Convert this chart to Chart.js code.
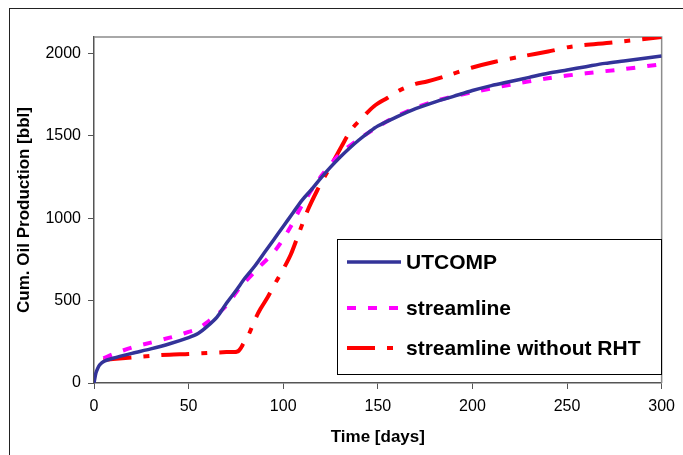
<!DOCTYPE html>
<html lang="en">
<head>
  <meta charset="UTF-8" />
  <title>Cum. Oil Production</title>
  <script src="https://cdn.jsdelivr.net/npm/chart.js"></script>
  <style>
    body {
      margin: 0;
      background: #fff;
      overflow: hidden;
    }
    .wrap {
      position: relative;
      width: 683px;
      height: 455px;
    }
    .frame {
      position: absolute;
      left: 9px;
      top: 8px;
      width: 700px;
      height: 500px;
      border: 1px solid #222;
    }
    canvas {
      position: absolute;
      left: 0;
      top: 0;
    }
  </style>
</head>
<body>
  <div class="wrap">
    <div class="frame"></div>
    <canvas id="chart" width="683" height="455"></canvas>
  </div>

  <script>
    // UTCOMP
    const utcompDays = [0, 1, 2, 3, 5, 10, 20, 30, 40, 50, 55, 60, 65, 70, 75, 80, 85, 90, 95, 100,
      105, 110, 115, 120, 125, 130, 135, 140, 145, 150, 160, 170, 180, 190, 200, 210, 220, 230, 240,
      250, 260, 270, 280, 290, 300];
    const utcompOil = [0, 60, 90, 110, 130, 150, 180, 207, 238, 275, 300, 345, 400, 484, 560, 640, 710,
      790, 870, 950, 1030, 1110, 1175, 1245, 1310, 1370, 1425, 1475, 1520, 1560, 1615, 1665, 1705,
      1740, 1775, 1805, 1830, 1855, 1880, 1900, 1920, 1940, 1955, 1970, 1985];

    // streamline
    const streamDays = [5, 10, 20, 30, 40, 45, 50, 55, 60, 65, 70, 77, 87, 96, 104, 110, 120, 130, 140,
      150, 160, 170, 180, 190, 200, 220, 240, 260, 280, 300];
    const streamOil = [150, 175, 215, 245, 275, 291, 310, 330, 370, 415, 470, 577, 700, 808, 950, 1080,
      1255, 1390, 1480, 1555, 1620, 1670, 1710, 1740, 1765, 1810, 1850, 1880, 1905, 1935];

    // streamline without RHT
    const noRhtDays = [5, 10, 20, 30, 40, 50, 60, 70, 76, 79, 82, 85, 88, 92, 96, 100, 104, 108, 113, 118,
      122, 127, 131, 136, 141, 148, 155, 162, 170, 176, 188, 200, 212, 226, 240, 253, 274, 300];
    const noRhtOil = [140, 145, 155, 165, 172, 176, 182, 188, 192, 240, 300, 383, 450, 525, 610, 690, 780,
      900, 1050, 1170, 1254, 1356, 1440, 1538, 1600, 1680, 1730, 1779, 1815, 1830, 1870, 1915, 1950,
      1982, 2012, 2043, 2067, 2100];

    const xTicks = [0, 50, 100, 150, 200, 250, 300];
    const yTicks = [0, 500, 1000, 1500, 2000];

    function pairs(xs, ys) {
      return xs.map((x, i) => ({ x: x, y: ys[i] }));
    }

    // gray frame on top/right of the plot
    const plotFrame = {
      id: 'plotFrame',
      beforeDatasetsDraw(chart) {
        const { ctx, chartArea: a } = chart;
        ctx.save();
        ctx.strokeStyle = '#8c8c8c';
        ctx.lineWidth = 1.5;
        ctx.beginPath();
        ctx.moveTo(a.left, a.top);
        ctx.lineTo(a.right, a.top);
        ctx.lineTo(a.right, a.bottom);
        ctx.stroke();
        ctx.restore();
      }
    };

    // boxed legend inside the plot
    const boxLegend = {
      id: 'boxLegend',
      afterDraw(chart) {
        const { ctx, chartArea: a } = chart;
        const left = a.left + 243, top = a.top + 202;
        const w = 324, h = 135;
        ctx.save();
        ctx.fillStyle = '#fff';
        ctx.fillRect(left, top, w, h);
        ctx.strokeStyle = '#000';
        ctx.lineWidth = 1;
        ctx.strokeRect(left + 0.5, top + 0.5, w, h);
        const rows = [23, 69, 109];
        chart.data.datasets.forEach((ds, i) => {
          const y = top + rows[i];
          ctx.beginPath();
          ctx.strokeStyle = ds.borderColor;
          ctx.lineWidth = ds.borderWidth;
          ctx.setLineDash(ds.borderDash || []);
          ctx.moveTo(left + 10, y);
          ctx.lineTo(left + 64, y);
          ctx.stroke();
          ctx.setLineDash([]);
          ctx.fillStyle = '#000';
          ctx.font = 'bold 21px "Liberation Sans", Arial, sans-serif';
          ctx.textBaseline = 'middle';
          ctx.fillText(ds.label, left + 69, y + 1);
        });
        ctx.restore();
      }
    };

    new Chart(document.getElementById('chart'), {
      type: 'line',
      data: {
        datasets: [
          {
            label: 'UTCOMP',
            data: pairs(utcompDays, utcompOil),
            borderColor: '#333399',
            borderWidth: 3.5,
            pointRadius: 0,
            tension: 0.3
          },
          {
            label: 'streamline',
            data: pairs(streamDays, streamOil),
            borderColor: '#ff00ff',
            borderWidth: 4,
            borderDash: [9, 12],
            pointRadius: 0,
            tension: 0.3
          },
          {
            label: 'streamline without RHT',
            data: pairs(noRhtDays, noRhtOil),
            borderColor: '#ff0000',
            borderWidth: 4,
            borderDash: [28, 12, 6, 12],
            pointRadius: 0,
            tension: 0.3
          }
        ]
      },
      options: {
        responsive: false,
        animation: false,
        layout: { padding: { top: 37, right: 15, left: 0, bottom: 0 } },
        plugins: {
          legend: { display: false },
          tooltip: { enabled: false }
        },
        scales: {
          x: {
            type: 'linear',
            min: 0,
            max: 300,
            afterFit(scale) { scale.height = 72; },
            afterBuildTicks(scale) { scale.ticks = xTicks.map(v => ({ value: v })); },
            ticks: {
              color: '#000',
              padding: 8,
              callback: v => String(v),
              font: { family: '"Liberation Sans", Arial, sans-serif', size: 16 }
            },
            grid: { drawOnChartArea: false, tickLength: 6, color: '#555' },
            border: { color: '#555', width: 1.5 },
            title: {
              display: true,
              text: 'Time [days]',
              color: '#000',
              padding: { top: 0, bottom: 7 },
              font: { family: '"Liberation Sans", Arial, sans-serif', size: 17, weight: 'bold' }
            }
          },
          y: {
            type: 'linear',
            min: 0,
            max: 2100,
            afterFit(scale) { scale.width = 94; },
            afterBuildTicks(scale) { scale.ticks = yTicks.map(v => ({ value: v })); },
            ticks: {
              color: '#000',
              padding: 7,
              callback: v => String(v),
              font: { family: '"Liberation Sans", Arial, sans-serif', size: 16 }
            },
            grid: { drawOnChartArea: false, tickLength: 6, color: '#555' },
            border: { color: '#555', width: 1.5 },
            title: {
              display: true,
              text: 'Cum. Oil Production [bbl]',
              color: '#000',
              padding: { top: 14, bottom: 0 },
              font: { family: '"Liberation Sans", Arial, sans-serif', size: 17, weight: 'bold' }
            }
          }
        }
      },
      plugins: [plotFrame, boxLegend]
    });
  </script>
</body>
</html>
